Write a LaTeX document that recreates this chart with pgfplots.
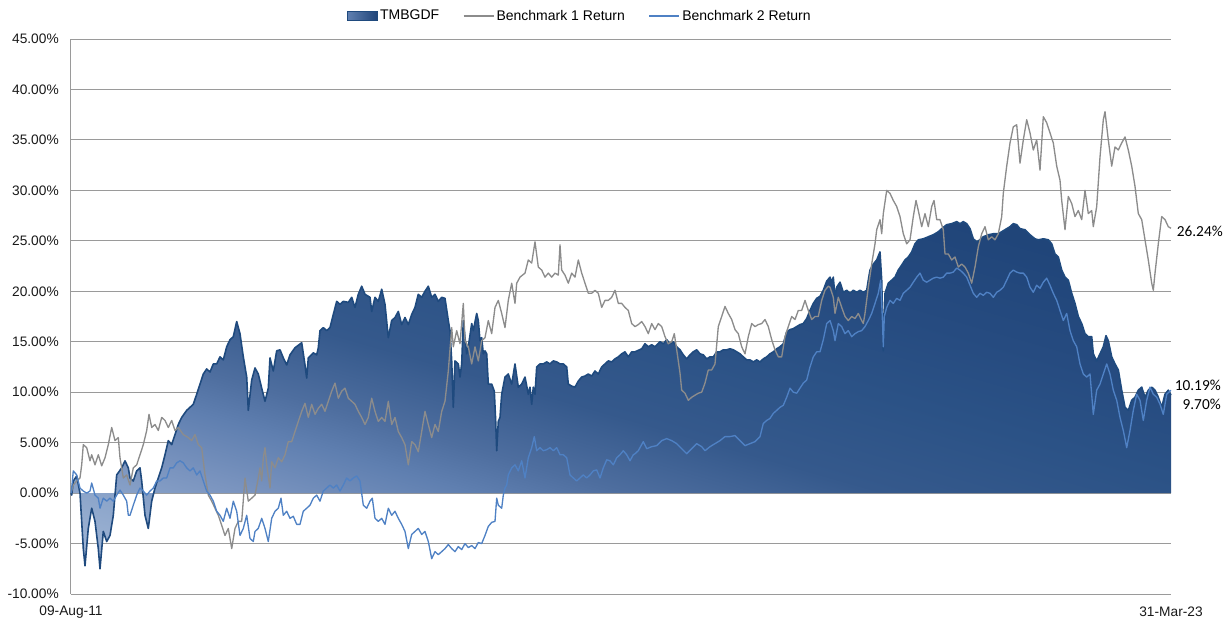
\documentclass[border=0pt]{standalone}
\usepackage{pgfplots}
\pgfplotsset{compat=1.18}
\usepackage{pgfplotstable}
\usepackage{fontspec}
\setmainfont{Liberation Sans}
\newfontfamily\lblfont{Carlito}

\definecolor{navy}{HTML}{1F4A7E}
\definecolor{benchgray}{HTML}{8C8C8C}
\definecolor{benchblue}{HTML}{4F81C4}
\definecolor{gridgray}{HTML}{9A9A9A}
% gradient stops of the fund area (light lower left -> dark upper right)
\definecolor{s0}{HTML}{B2C5E0}
\definecolor{s1}{HTML}{AEC2DE}
\definecolor{s2}{HTML}{A2B7D6}
\definecolor{s3}{HTML}{8DA6CB}
\definecolor{s4}{HTML}{7A94BF}
\definecolor{s5}{HTML}{5F7FB0}
\definecolor{s6}{HTML}{4E6E9F}
\definecolor{s7}{HTML}{35598C}
\definecolor{s8}{HTML}{2B5286}
\definecolor{s9}{HTML}{264B80}
\definecolor{s10}{HTML}{1F4478}
\definecolor{s11}{HTML}{1D4075}
\pgfdeclareverticalshading{tmbshade}{100bp}{color(0bp)=(s0); color(15bp)=(s1);
  color(20bp)=(s2); color(26bp)=(s3); color(31bp)=(s4); color(37bp)=(s5);
  color(41bp)=(s6); color(48bp)=(s7); color(57bp)=(s8); color(65bp)=(s9);
  color(77bp)=(s10); color(100bp)=(s11)}

% x = position along the time axis (09-Aug-11 = 71 ... 31-Mar-23 = 1171), y = return in %
\pgfplotstableread{
x y
71 0
71.7 -0.2
73.3 1.2
76.7 1.7
80 0
83.3 -5.5
85 -7.2
88.3 -3.5
91.7 -1.5
95 -2.8
98.3 -5.5
100 -7.5
103.3 -3.8
106.7 -4.8
110 -4.2
113.3 -2.2
116.7 1.8
121.7 2.5
125 3.2
128.3 2.5
130 1.5
133.3 1.2
136.7 2.2
140 2.5
141.7 1.2
145 -2.2
148.3 -3.5
151.7 -0.8
155 0.5
158.3 1.5
161.7 2.5
165 3.8
168.3 5.2
171.7 4.8
175 5.8
178.3 6.8
181.7 7.5
186.7 8.2
190 8.5
193.3 8.8
196.7 9.8
200 10.8
203.3 11.8
206.7 12.3
210 12
213.3 12.8
216.7 12.8
220 13.5
223.3 13.2
226.7 14.5
230 15.2
233.3 15.5
236.7 17
240 15.8
243.3 13.5
246.7 11.5
248.3 8.2
251.7 11.2
255 12.4
258.3 11.8
261.7 10.4
265 9.1
268.3 10.4
270 13.4
273.3 12.1
276.7 14.1
280 14.2
283.3 13.4
286.7 12.7
290 13.7
295 14.4
301.7 14.9
305 12.7
306.7 11.4
308.3 13.4
313.3 13.9
316.7 13.7
318.3 14.4
320 16.1
323.3 16.4
326.7 16.1
330 16.4
333.3 17.7
336.7 19
340 18.7
343.3 19
348.3 18.9
351.7 19.4
355 18.4
358.3 19.7
361.7 20.5
365 19.7
370 19.4
371.7 18
375 19.4
378.3 19
381.7 20.2
385 18.7
388.3 15.4
391.7 17.1
395 17.4
398.3 18
401.7 16.7
405 17.4
408.3 16.7
411.7 17.7
415 18.4
418.3 19.7
421.7 19.4
425 20
428.3 20.5
431.7 19.4
435 19.7
438.3 19
441.7 19.4
445 19.3
448.3 17.1
450 16.1
451.7 13.1
453.3 8.5
455 13.1
458.3 12.8
460 11.5
461.7 12.8
463.3 17.1
465 15.4
466.7 13.8
468.3 14.5
471.7 16.8
473.3 16.1
476.7 17.8
478.3 17.1
480 15.1
481.7 15.4
483.3 13.8
485 14.1
486.7 13.8
488.3 10.8
491.7 10.8
494.3 10.1
495.7 7.1
496.7 4.2
498.3 7.1
500 7.5
501.7 9.8
505 11.5
508.3 11.8
511.7 10.8
515 12.8
518.3 10.5
521.7 10.8
525 11.5
528.3 9.8
530 10.5
531.7 8.8
533.3 10.5
535 9.8
536.7 12.5
540 12.8
543.3 12.8
546.7 13
550 12.8
553.3 13.1
556.7 13
560 12.8
563.3 12.8
566.7 12.5
568.3 10.8
571.7 10.6
575 10.5
578.3 11.1
581.7 11.5
585 11.6
588.3 11.8
591.7 11.6
595 12.1
598.3 11.8
601.7 12.5
605 12.8
608.3 13.1
611.7 13
615 13.3
618.3 13.5
621.7 13.8
625 14
628.3 13.5
631.7 14
635 14
641.7 14.3
645 14.8
648.3 14.5
651.7 14.7
655 14.5
660 15
663.3 14.8
666.7 15.2
670 14.8
673.3 15
676.7 14.5
680 14.2
683.3 13.7
686.7 13.3
690 13.7
693.3 14
696.7 14.2
700 13.8
703.3 13.7
706.7 13.3
710 13.5
713.3 13.5
716.7 14
720 14
723.3 14.2
726.7 14.2
730 14.3
733.3 14.2
736.7 14
740 13.8
743.3 13.5
746.7 13.2
750 13.2
753.3 13
756.7 13.2
760 13
763.3 13.3
766.7 13.5
770 13.8
773.3 14
776.7 14.3
780 14.5
783.3 14.8
786.7 16
790 16.2
793.3 16.3
796.7 16.5
800 16.7
803.3 16.8
806.7 17.3
810 18.1
813.3 18.8
816.7 19.3
820 19.5
823.3 20.1
826.7 21
830 21.4
831.7 20.9
833.3 21.4
835 19.4
836.7 20.4
840 20.9
843.3 19.9
846.7 20.1
850 19.8
853.3 20.1
856.7 19.9
860 20.1
863.3 19.9
866.7 20.1
868.3 21.1
870 22.1
873.3 22.7
876.7 23.1
880 23.9
881.7 21.1
883.3 14.1
885 19.8
888.3 20.8
891.7 21.1
895 21.4
898.3 22.1
901.7 22.6
905 23.1
908.3 23.4
911.7 23.9
915 24.7
918.3 25.1
923.3 25.2
928.3 25.4
933.3 25.6
938.3 25.9
941.7 26.2
946.7 26.6
951.7 26.7
956.7 26.9
960 26.7
963.3 26.9
966.7 26.7
970 26.2
973.3 25.2
976.7 24.9
980 25.1
983.3 25.4
988.3 25.6
993.3 25.7
998.3 25.7
1001.7 25.9
1005 26.1
1010 26.4
1013.3 26.7
1016.7 26.6
1020 26.2
1025 26.1
1030 25.6
1035 25.2
1038.3 25.1
1043.3 25.2
1048.3 25.1
1051.7 24.7
1055 23.7
1058.3 23.4
1061.7 22.1
1065 21.4
1068.3 21.1
1071.7 19.8
1075 18.8
1078.3 17.5
1081.7 16.8
1085 15.8
1088.3 15.5
1091.7 15.5
1093.3 13.8
1096.7 13.1
1100 13.8
1103.3 14.5
1106 15.6
1108.3 15.1
1111.7 13.5
1115 12.8
1118.3 12.2
1121.7 10.2
1125 8.5
1128.3 8.2
1131.7 9.2
1135 9.5
1138.3 10.2
1141.7 10.5
1145 9.5
1148.3 10.2
1151.7 10.5
1155 10.2
1158.3 9.5
1161.7 8.5
1165 9.8
1168.3 10.2
1171 9.7
}\tmb

\pgfplotstableread{
x y
71 0
73.3 0.8
76.7 1.2
80 1.5
81.7 2.8
83.3 4.8
86.7 4.5
90 3.2
91.7 3.8
95 2.8
98.3 3.8
101.7 2.7
105 3.5
108.3 4.8
111.7 6.5
115 5.2
118.3 5.5
120 3.5
123.3 1.5
126.7 1.8
130 0.8
133.3 2.5
136.7 2.8
140 3.8
143.3 4.8
146.7 6.2
149 7.8
151.7 6.5
155 6.8
158.3 6.2
161.7 7.5
165 7.2
168.3 6.5
171.7 7.2
175 6.2
178.3 6.5
183.3 5.8
188.3 5.5
191.7 5.2
195 5.8
198.3 4.8
201.7 4.5
205 1.8
208.3 -0.2
211.7 -0.8
215 -1.5
218.3 -2.2
221.7 -3.2
225 -4.2
228.3 -3.5
231.7 -5.5
235 -3.5
238.3 -2.8
241.7 -2.8
245 1.5
248.3 -0.8
251.7 -0.5
255 -0.2
258.3 1.5
260 2.5
261.7 1.2
263.3 3.5
265 4.5
266.7 2.8
270 0.5
271.7 3.1
275 2.5
278.3 3.5
281.7 3.1
285 3.8
288.3 5.1
291.7 5.1
295 6.1
298.3 7.1
301.7 8.1
305 8.9
308.3 7.5
311.7 8.8
315 7.8
318.3 8.4
321.7 8.8
325 8.1
328.3 9.1
331.7 10.1
335 10.9
338.3 9.4
341.7 10.1
345 10.4
348.3 9.4
351.7 9.1
355 8.8
358.3 8.1
361.7 7.5
365 6.8
368.3 7.5
371.7 9.4
375 8.1
378.3 7.1
381.7 7.5
385 7.1
388.3 9.1
391.7 6.8
395 7.5
398.3 6.1
401.7 5.5
405 4.8
408.3 2.8
411.7 5.1
415 4.8
418.3 4.1
421.7 6.1
425 8.1
428.3 6.8
431.7 5.5
435 6.8
438.3 6.1
441.7 8.1
445 9.1
448.3 12.1
451.7 16.4
453.3 14.5
456.7 16.1
460 14.8
463.3 18.8
465 15.1
468.3 14.5
471.7 12.8
475 14.5
478.3 13.1
481.7 15.1
485 15.4
488.3 17.1
491.7 15.8
495 18.4
498.3 19.1
501.7 17.8
505 16.4
508.3 19.1
511.7 20.8
515 18.8
516.7 20.8
520 21.4
525 21.8
528.3 23.1
531.7 22.8
535 24.9
538.3 22.4
541.7 22.1
545 21.4
548.3 21.8
551.7 21.4
555 21.8
558.3 21.6
560 24.6
561.7 22.1
565 21.6
568.3 20.8
571.7 21.8
575 21.4
578.3 23.1
581.7 21.8
585 20.8
588.3 19.8
591.7 19.8
595 20.1
598.3 19.8
601.7 18.4
605 19.1
608.3 19.1
611.7 19.4
615 20.1
618.3 18.8
621.7 18.8
625 18.4
628.3 18.1
631.7 16.8
635 16.5
638.3 16.7
641.7 17
645 16.5
648.3 15.8
651.7 16.8
655 16.2
658.3 16.8
661.7 16.5
665 15.5
668.3 14.8
671.7 15
674.3 15.8
676.7 14.2
680 11.9
681.7 10.2
685 9.9
688.3 9.2
691.7 9.5
695 9.7
698.3 9.9
701.7 10
705 10.9
708.3 12.2
711.7 12.2
715 12.8
718.3 16.5
721.7 17.5
725 18.5
728.3 17.8
731.7 17.2
735 16.2
738.3 15.8
741.7 14.5
745 13.8
748.3 15.5
751.7 16.8
755 16.5
758.3 16.7
761.7 16.8
765 17.2
768.3 16.5
771.7 15.2
775 14.2
778.3 13.5
781.7 13.5
785 15.5
788.3 16.5
791.7 17.5
795 17.2
798.3 18.1
801.7 18.1
805 19.1
808.3 18.1
811.7 17.2
815 17.5
818.3 17.5
821.7 19.1
825 20.1
828.3 20.5
830 20.4
833.3 19.4
835 17.8
838.3 19.4
841.7 18.4
845 17.5
848.3 17.1
851.7 17.5
855 17.3
858.3 17.8
861.7 17.1
863.3 16.8
865 17.8
868.3 20.4
871.7 22.7
875 24.7
876.7 26.1
880 27.1
881.7 25.7
883.3 27.7
886.7 30
890 29.7
893.3 29
896.7 28.4
900 27.4
903.3 25.7
906.7 24.7
910 25.1
913.3 27.4
916 29
918.3 28
921.7 26.4
925 27.7
928.3 26.4
931.7 28.4
934 29
936.7 27.1
940 27.1
943.3 26.1
945 23.7
948.3 23.7
951.7 23.1
955 23.4
958.3 22.4
961.7 22.7
965 22.4
968.3 21.8
971.7 20.8
975 22.4
978.3 24.4
981.7 25.7
985 26.4
988.3 25.1
991.7 25.4
995 25.1
998.3 25.7
1001.7 27.4
1003.3 29.7
1006.7 32.4
1010 34.7
1013.3 36.3
1016.7 36.5
1020 32.7
1023.3 35
1026.7 37
1030 35.7
1033.3 34
1036.7 35
1040 32
1043.3 37.3
1046.7 36.7
1050 35.7
1053.3 34.7
1056.7 32.4
1060 31
1061.7 29
1065 26.1
1068.3 29.4
1071.7 28.7
1075 27.4
1078.3 28
1081.7 27.1
1085 30
1088.3 27.7
1091.7 28
1093.3 26.4
1096.7 28.4
1100 33.3
1103.3 37
1105 37.8
1108.3 35
1111.7 32.4
1115 34.3
1118.3 34
1121.7 34.7
1125 35.3
1128.3 34
1131.7 32.4
1135 30.4
1138.3 27.7
1141.7 27.1
1145 25.1
1148.3 23.1
1151.7 20.8
1153.3 20.1
1155 21.8
1158.3 24.7
1161.7 27.4
1165 27.1
1168.3 26.4
1171 26.24
}\bone

\pgfplotstableread{
x y
71 0
71.7 0.5
73.3 2.2
76.7 1.8
80 0.5
83.3 0.2
86.7 0
90 0.2
91.7 1
95 -0.2
98.3 -0.5
100 -1.5
103.3 -0.5
106.7 -0.8
110 -0.5
113.3 -0.8
116.7 -0.2
120 0.3
123.3 -0.2
126.7 -0.8
128.3 -2.2
130 -2.2
133.3 -1.2
136.7 -0.2
140 0.5
143.3 0.2
146.7 -0.2
150 0.2
153.3 0.5
156.7 1.2
160 1.2
163.3 1.5
166.7 1.5
170 2.5
173.3 2.5
176.7 3
180 3.2
183.3 3
186.7 2.5
190 2.2
193.3 2.5
196.7 1.8
200 2.2
203.3 1.2
206.7 0.2
210 -0.2
213.3 -0.8
216.7 -1.8
220 -2.2
223.3 -2.8
226.7 -1.5
230 -2.5
233.3 -0.8
236.7 -1.8
240 -4.2
243.3 -3.5
246.7 -2.2
250 -4.5
253.3 -4.8
255 -3.8
258.3 -3.5
261.7 -2.5
265 -3.5
268.3 -4.8
271.7 -2.5
275 -1.8
278.3 -1.5
281 -0.5
283.3 -2.2
286.7 -1.8
290 -2.5
293.3 -2.3
296.7 -3.1
300 -3.1
303.3 -1.8
306.7 -1.5
310 -1.2
313.3 -0.5
316.7 -0.2
320 -0.8
323.3 0.2
326.7 0.5
330 0.8
333.3 0.5
336.7 0.8
340 0.2
343.3 0.8
346.7 1.5
350 1.2
353.3 1.5
356.7 1.7
360 1.2
363.3 -1.2
366.7 -1.5
370 -0.8
372.3 -0.5
375 -2.5
378.3 -2.8
381.7 -2.5
385 -3.1
388.3 -1.5
391.7 -2.2
395 -1.8
398.3 -2.5
401.7 -3.1
405 -3.8
408.3 -5.5
411.7 -4.1
415 -3.8
418.3 -3.5
421.7 -4.1
425 -3.8
428.3 -4.8
431.7 -6.5
435 -5.8
438.3 -6.1
441.7 -5.8
445 -5.5
448.3 -5.1
451.7 -5.5
455 -5.8
458.3 -5.3
461.7 -5.6
465 -5.0
468.3 -5.4
471.7 -5.2
475 -5.5
478.3 -4.9
481.7 -5.0
485 -4.2
488.3 -3.3
491.7 -2.9
495 -2.8
496.7 -0.5
498.3 -1.2
501.7 -1.5
503.3 -0.2
505 0.5
506.7 0.8
508.3 1.8
511.7 2.5
515 2.8
518.3 2.2
521.7 3.2
525 1.5
528.3 3.5
531.7 4.5
534.3 5.6
536.7 4.2
540 4.5
543.3 4.2
546.7 4.3
550 4.5
553.3 4.2
556.7 4.5
560 3.8
563.3 3.8
566.7 3.5
570 1.8
573.3 1.5
576.7 1.2
580 1.5
583.3 1.8
586.7 1.5
590 1.8
593.3 2.2
596.7 2.3
600 1.5
603.3 2.5
606.7 3.3
610 3.2
613.3 2.8
616.7 3.5
620 3.8
623.3 4.2
626.7 3.8
630 3.2
633.3 3.8
635 3.9
638.3 4.2
643.3 5.1
646.7 4.4
651.7 4.6
656.7 4.7
661.7 5.2
666.7 5.4
671.7 5.2
676.7 4.9
681.7 4.4
686.7 3.9
691.7 4.4
696.7 4.9
701.7 4.6
705 4.2
710 4.6
715 4.9
720 5.2
725 5.6
730 5.6
735 5.7
740 5.2
745 4.7
750 4.9
755 5.1
760 5.6
763.3 6.9
766.7 7.2
770 7.4
773.3 7.9
776.7 8.2
780 8.5
783.3 8.7
786.7 9.5
790 10.4
793.3 10
796.7 9.9
800 10.4
803.3 10.9
806.7 11.2
810 12.5
813.3 13.5
816.7 14
820 14
823.3 15.2
826.7 16.8
830 17.1
833.3 16.1
835 15.1
838.3 16.8
841.7 16.5
845 15.8
848.3 16.1
851.7 15.5
855 15.8
858.3 16
861.7 16.1
865 16.5
868.3 17.1
871.7 17.8
875 18.8
878.3 19.8
880.7 21.1
882.3 17.5
883.3 14.5
884.3 17.5
886.7 18.4
890 19.1
893.3 18.8
896.7 19.3
900 19.1
903.3 19.8
906.7 20.1
910 20.4
913.3 20.9
916.7 21.4
920 21.8
923.3 21.1
926.7 20.9
930 21.1
933.3 21.3
936.7 21.4
940 21.3
943.3 21.4
946.7 21.8
950 21.8
953.3 21.9
956.7 22.3
960 22.1
963.3 21.8
966.7 21.4
970 20.6
973.3 19.8
976.7 19.4
980 19.8
983.3 19.6
986.7 19.9
990 19.8
993.3 19.4
996.7 19.9
1000 20.1
1003.3 20.4
1006.7 21.1
1010 21.8
1013.3 22.1
1016.7 21.9
1020 21.8
1023.3 21.8
1026.7 21.4
1030 20.4
1033.3 19.9
1036.7 20.6
1040 20.3
1043.3 20.9
1046.7 21.3
1050 20.6
1053.3 19.8
1056.7 19.1
1060 18.1
1063.3 17.1
1066.7 17.8
1070 16.1
1073.3 15.1
1076.7 14.5
1080 12.8
1083.3 11.8
1086.7 11.5
1090 11.8
1093.3 7.8
1096.7 10.2
1100 10.8
1103.3 11.8
1106.7 12.8
1110 11.8
1113.3 10.2
1116.7 9.2
1120 7.5
1123.3 6.2
1126.7 4.5
1130 6.2
1133.3 8.2
1136.7 9.8
1140 9.2
1143.3 7.2
1146.7 9.2
1150 10.5
1153.3 9.8
1156.7 9.5
1160 8.8
1163.3 7.8
1166.7 9.8
1171 10.19
}\btwo

\begin{document}
\begin{tikzpicture}
\path[use as bounding box] (0,0) rectangle (924pt,466.5pt);
\begin{axis}[
  at={(53.25pt,21pt)}, anchor=south west,
  scale only axis, width=825pt, height=416.25pt,
  xmin=71, xmax=1171, ymin=-10, ymax=45,
  enlargelimits=false, clip=false,
  axis lines*=left,
  axis line style={gridgray, line width=0.75pt, -},
  ytick={-10,-5,...,45},
  xtick={71,1171},
  xticklabels={09-Aug-11,31-Mar-23},
  major tick length=0pt,
  ymajorgrids,
  grid style={gridgray, line width=0.75pt},
  /pgf/number format/assume math mode=true,
  yticklabel={\pgfmathprintnumber[fixed,fixed zerofill,precision=2]{\tick}\%},
  tick label style={font=\fontsize{10.3}{12}\selectfont, text=black!90},
  yticklabel style={anchor=east, inner xsep=0pt, xshift=-9pt},
  xticklabel style={anchor=center, yshift=-13.5pt},
  no markers,
  every axis plot/.append style={line join=round},
  legend columns=3,
  legend cell align=left,
  legend style={at={(0.4627,1.0414)}, anchor=center, draw=none, fill=none,
    font=\fontsize{10.5}{12}\selectfont,
    /tikz/every even column/.append style={column sep=16pt},
    nodes={inner xsep=1.5pt}},
]
\addlegendimage{legend image code/.code={
  \fill[left color=s5, right color=s10] (0pt,-3.4pt) rectangle (22.5pt,3.4pt);
  \draw[navy, line width=0.6pt] (0pt,-3.4pt) rectangle (22.5pt,3.4pt);}}
\addlegendentry{TMBGDF}
\addlegendimage{legend image code/.code={
  \draw[benchgray, line width=1.5pt] (0pt,0pt) -- (22.5pt,0pt);}}
\addlegendentry{Benchmark 1 Return}
\addlegendimage{legend image code/.code={
  \draw[benchblue, line width=1.5pt] (0pt,0pt) -- (22.5pt,0pt);}}
\addlegendentry{Benchmark 2 Return}

\addplot[draw=none, shade, shading=tmbshade, shading angle=-16, forget plot] table {\tmb} \closedcycle;
\addplot[navy, line width=1.2pt, forget plot] table {\tmb};
\addplot[benchgray, line width=1pt, forget plot] table {\bone};
\addplot[benchblue, line width=1pt, forget plot] table {\btwo};

\node[anchor=east, inner sep=0pt, font=\lblfont\fontsize{11.5}{13}\selectfont] at (axis cs:1223,25.9) {26.24\%};
\node[anchor=east, inner sep=0pt, font=\lblfont\fontsize{11.5}{13}\selectfont] at (axis cs:1221,10.7) {10.19\%};
\node[anchor=east, inner sep=0pt, font=\lblfont\fontsize{11.5}{13}\selectfont] at (axis cs:1221,8.8) {9.70\%};
\end{axis}
\end{tikzpicture}
\end{document}
